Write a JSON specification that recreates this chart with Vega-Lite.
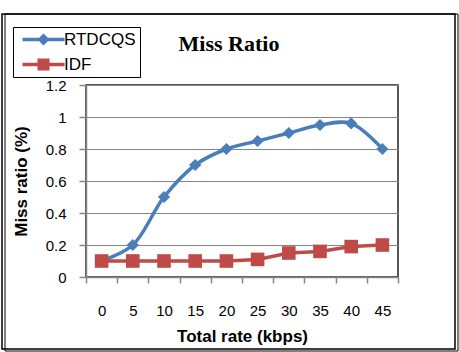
{
  "$schema": "https://vega.github.io/schema/vega-lite/v6.json",
  "width": 312,
  "height": 192,
  "autosize": {"type": "none"},
  "padding": {"left": 86, "top": 85, "right": 61, "bottom": 75},
  "background": "white",
  "title": {
    "text": "Miss Ratio",
    "font": "Liberation Serif",
    "fontSize": 22,
    "fontWeight": "bold",
    "color": "#000000",
    "anchor": "middle",
    "baseline": "alphabetic",
    "dx": -13,
    "offset": -60
  },
  "datasets": {
    "miss": [
      {"rate": 0, "series": "RTDCQS", "ratio": 0.1},
      {"rate": 5, "series": "RTDCQS", "ratio": 0.2},
      {"rate": 10, "series": "RTDCQS", "ratio": 0.5},
      {"rate": 15, "series": "RTDCQS", "ratio": 0.7},
      {"rate": 20, "series": "RTDCQS", "ratio": 0.8},
      {"rate": 25, "series": "RTDCQS", "ratio": 0.85},
      {"rate": 30, "series": "RTDCQS", "ratio": 0.9},
      {"rate": 35, "series": "RTDCQS", "ratio": 0.95},
      {"rate": 40, "series": "RTDCQS", "ratio": 0.96},
      {"rate": 45, "series": "RTDCQS", "ratio": 0.8},
      {"rate": 0, "series": "IDF", "ratio": 0.1},
      {"rate": 5, "series": "IDF", "ratio": 0.1},
      {"rate": 10, "series": "IDF", "ratio": 0.1},
      {"rate": 15, "series": "IDF", "ratio": 0.1},
      {"rate": 20, "series": "IDF", "ratio": 0.1},
      {"rate": 25, "series": "IDF", "ratio": 0.11},
      {"rate": 30, "series": "IDF", "ratio": 0.15},
      {"rate": 35, "series": "IDF", "ratio": 0.16},
      {"rate": 40, "series": "IDF", "ratio": 0.19},
      {"rate": 45, "series": "IDF", "ratio": 0.2}
    ]
  },
  "data": {"name": "miss"},
  "encoding": {
    "x": {
      "field": "rate",
      "type": "ordinal",
      "bandPosition": 0.5,
      "scale": {"type": "band", "paddingInner": 0, "paddingOuter": 0},
      "title": "Total rate (kbps)",
      "axis": {
        "labelAngle": 0,
        "tickBand": "extent",
        "tickSize": 6,
        "labelPadding": 20,
        "titlePadding": 10,
        "grid": false
      }
    },
    "y": {
      "field": "ratio",
      "type": "quantitative",
      "scale": {"domain": [0, 1.2], "nice": false},
      "title": "Miss ratio (%)",
      "axis": {
        "values": [0, 0.2, 0.4, 0.6, 0.8, 1, 1.2],
        "format": "~g",
        "tickSize": 7,
        "labelPadding": 13,
        "titlePadding": 15,
        "grid": true
      }
    },
    "color": {
      "field": "series",
      "type": "nominal",
      "scale": {"domain": ["RTDCQS", "IDF"], "range": ["#4a7ebb", "#be4b48"]},
      "legend": {
        "title": null,
        "orient": "none",
        "legendX": -73,
        "legendY": -58,
        "strokeColor": "#000000",
        "padding": 4,
        "symbolSize": 144,
        "symbolOffset": 18,
        "labelOffset": 12,
        "rowPadding": 7,
        "labelFont": "Liberation Sans",
        "labelFontSize": 17,
        "labelColor": "#000000",
        "encoding": {
          "symbols": {
            "shape": {"value": {"expr": "datum.value === 'RTDCQS' ? 'M-3.5,-0.28H-0.72L0,-1L0.72,-0.28H3.5V0.28H0.72L0,1L-0.72,0.28H-3.5Z' : 'M-3.5,-0.28H-1V-1H1V-0.28H3.5V0.28H1V1H-1V0.28H-3.5Z'"}},
            "fill": {"value": {"expr": "scale('color', datum.value)"}},
            "fillOpacity": {"value": 1},
            "strokeWidth": {"value": 0},
            "opacity": {"value": 1}
          }
        }
      }
    }
  },
  "layer": [
    {
      "data": {"values": [{"frame": "outer"}]},
      "mark": {"type": "rect", "fill": null, "stroke": "#000000", "strokeWidth": 1.5, "clip": false},
      "encoding": {
        "x": {"value": -84},
        "x2": {"value": 369},
        "y": {"value": -71},
        "y2": {"value": 264},
        "color": null
      }
    },
    {
      "data": {"values": [{"frame": "inner"}]},
      "mark": {"type": "rect", "fill": null, "stroke": "#000000", "strokeWidth": 1, "clip": false},
      "encoding": {
        "x": {"value": -81},
        "x2": {"value": 372},
        "y": {"value": -71},
        "y2": {"value": 266},
        "color": null
      }
    },
    {
      "transform": [{"filter": "datum.series === 'RTDCQS'"}],
      "mark": {"type": "line", "interpolate": "catmull-rom", "strokeWidth": 3.5}
    },
    {
      "transform": [{"filter": "datum.series === 'IDF'"}],
      "mark": {"type": "line", "interpolate": "linear", "strokeWidth": 3.5}
    },
    {
      "transform": [{"filter": "datum.series === 'RTDCQS'"}],
      "mark": {"type": "point", "shape": "diamond", "filled": true, "opacity": 1, "size": 150}
    },
    {
      "transform": [{"filter": "datum.series === 'IDF'"}],
      "mark": {"type": "point", "shape": "square", "filled": true, "opacity": 1, "size": 185}
    }
  ],
  "config": {
    "view": {"stroke": "#222222", "strokeWidth": 1.5},
    "font": "Liberation Sans",
    "axis": {
      "labelFont": "Liberation Sans",
      "labelFontSize": 15,
      "labelColor": "#000000",
      "titleFont": "Liberation Sans",
      "titleFontSize": 17,
      "titleFontWeight": "bold",
      "titleColor": "#000000",
      "domainColor": "#868686",
      "domainWidth": 1.5,
      "tickColor": "#868686",
      "tickWidth": 1.5,
      "gridColor": "#868686",
      "gridWidth": 1
    }
  }
}
